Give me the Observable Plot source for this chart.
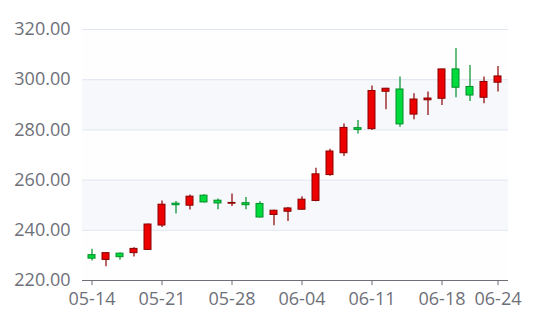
<!DOCTYPE html>
<html><head><meta charset="utf-8">
<script src="https://cdn.jsdelivr.net/npm/d3@7"></script>
<script src="https://cdn.jsdelivr.net/npm/@observablehq/plot@0.6"></script>
<style>body{margin:0;background:#fff}</style>
</head><body><div id="chart"></div>
<script>
const dates = ["05-14","05-15","05-16","05-17","05-20","05-21","05-22","05-23","05-24","05-27",
  "05-28","05-29","05-30","05-31","06-03","06-04","06-05","06-06","06-07","06-10",
  "06-11","06-12","06-13","06-14","06-17","06-18","06-19","06-20","06-21","06-24"];
const opens  = [228.7,230.9,229.3,232.6,242.3,250.2,250.0,253.4,251.1,250.7,
  250.9,250.0,245.1,247.8,248.7,252.2,262.3,271.4,280.8,280.0,
  295.5,296.4,282.2,292.1,292.5,304.1,296.8,293.7,299.1,301.3];
const closes = [230.1,228.2,230.7,230.9,232.2,241.9,250.6,249.8,253.8,251.8,
  250.6,250.8,250.5,246.1,247.4,248.2,251.7,262.0,270.7,280.7,
  280.3,295.2,296.1,286.1,291.8,292.4,304.1,297.1,292.8,298.8];
const lows   = [227.8,225.5,228.1,229.4,232.0,241.1,246.5,248.1,250.9,248.2,
  249.5,248.2,244.9,241.8,243.5,248.0,251.4,261.5,269.4,278.4,
  279.8,288.0,281.1,284.0,285.7,289.7,292.8,291.3,290.4,295.1];
const highs  = [232.5,231.0,231.0,233.0,242.5,251.7,251.5,254.1,254.2,252.5,
  254.5,253.1,251.4,248.0,249.1,253.4,264.7,272.3,282.4,283.7,
  297.5,296.6,301.1,294.4,295.1,304.2,312.4,305.7,301.1,305.3];
const yTicks = [220, 240, 260, 280, 300, 320];
const xTickLabels = ["05-14","05-21","05-28","06-04","06-11","06-18","06-24"];
const bandLows = [220, 240, 260, 280, 300];
const bandFills = ["#fefefe", "#f6f8fc", "#fefefe", "#f6f8fc", "#fefefe"];

const rows = dates.map((date, i) => ({date, open: opens[i], close: closes[i], low: lows[i], high: highs[i]}));
const up = rows.filter(d => d.close > d.open);
const down = rows.filter(d => d.close <= d.open);
const bands = bandLows.map((lo, i) => ({lo, hi: lo + 20, fill: bandFills[i]}));

const W = 540, H = 315, mL = 82, mR = 32;
const step = (W - mL - mR) / (dates.length - 1);

const chart = Plot.plot({
  width: W, height: H,
  marginLeft: mL, marginRight: mR, marginTop: 29, marginBottom: 35,
  style: {fontFamily: "'Open Sans', 'Liberation Sans', sans-serif", fontSize: "18px", color: "#6E7079", background: "#ffffff"},
  color: {type: "identity"},
  x: {type: "band", domain: dates, range: [mL - step / 2, W - mR + step / 2],
      paddingInner: 0.5, paddingOuter: 0.25, align: 0.5,
      ticks: xTickLabels, tickSize: 5, tickPadding: 7, label: null},
  y: {domain: [220, 320], ticks: yTicks, tickSize: 0, tickPadding: 12,
      tickFormat: d3.format(".2f"), label: null},
  marks: [
    Plot.rect(bands, {y1: "lo", y2: "hi", fill: "fill"}),
    Plot.ruleY(yTicks, {stroke: "#E0E6F1", strokeWidth: 1}),
    Plot.ruleY([220], {stroke: "#6E7079", strokeWidth: 1}),
    Plot.ruleX(up, {x: "date", y1: "low", y2: "high", stroke: "#008F28", strokeWidth: 1.2}),
    Plot.ruleX(down, {x: "date", y1: "low", y2: "high", stroke: "#8A0000", strokeWidth: 1.2}),
    Plot.barY(up, {x: "date", y1: "open", y2: "close", fill: "#00da3c", stroke: "#008F28", strokeWidth: 1}),
    Plot.barY(down, {x: "date", y1: "open", y2: "close", fill: "#ec0000", stroke: "#8A0000", strokeWidth: 1})
  ]
});
document.getElementById("chart").appendChild(chart);
</script>
</body></html>
